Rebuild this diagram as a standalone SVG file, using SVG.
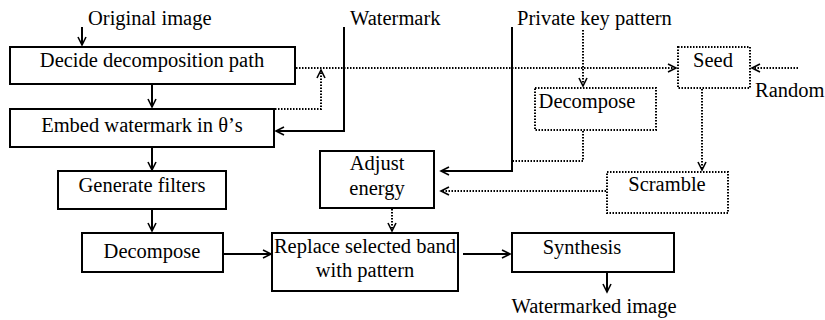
<svg xmlns="http://www.w3.org/2000/svg" width="825" height="320" viewBox="0 0 825 320">
<style>
text{font-family:"Liberation Serif","Times New Roman",serif;font-size:20.5px;fill:#000}
.m{text-anchor:middle}
.box{fill:#fff;stroke:#000;stroke-width:2}
.dbox{fill:#fff;stroke:#000;stroke-width:2;stroke-dasharray:1.5 1.5}
.c{fill:none;stroke:#000;stroke-width:2}
.d{fill:none;stroke:#000;stroke-width:2;stroke-dasharray:1.5 1.5}
</style>
<defs>
<marker id="a" markerUnits="userSpaceOnUse" markerWidth="12" markerHeight="12" refX="9" refY="5" orient="auto">
<path d="M1,1 L9,5 L1,9" fill="none" stroke="#000" stroke-width="1.6"/>
</marker>
</defs>
<g id="connectors">
<path class="c" d="M82,27 V45" marker-end="url(#a)"/>
<path class="c" d="M152,85 V107" marker-end="url(#a)"/>
<path class="c" d="M152,148 V170" marker-end="url(#a)"/>
<path class="c" d="M152,210 V231" marker-end="url(#a)"/>
<path class="c" d="M224,254 H271" marker-end="url(#a)"/>
<path class="c" d="M463,254 H510" marker-end="url(#a)"/>
<path class="c" d="M607,273 V292" marker-end="url(#a)"/>
<path class="c" d="M344,27 V131 H276" marker-end="url(#a)"/>
<path class="c" d="M512,27 V171 H441" marker-end="url(#a)"/>
<path class="d" d="M296,68 H676" marker-end="url(#a)"/>
<path class="d" d="M275,109 H321 V70" marker-end="url(#a)"/>
<path class="d" d="M583,30 V86" marker-end="url(#a)"/>
<path class="d" d="M798,68 H752" marker-end="url(#a)"/>
<path class="d" d="M702,89 V170" marker-end="url(#a)"/>
<path class="d" d="M583,131 V161 H513"/>
<path class="d" d="M606,191 H441" marker-end="url(#a)"/>
<path class="d" d="M392,209 V231" marker-end="url(#a)"/>
</g>
<g id="labels">
<text x="88" y="25">Original image</text>
<text x="350" y="25">Watermark</text>
<text x="517" y="25">Private key pattern</text>
<text x="755" y="97">Random</text>
<text x="594" y="313" class="m">Watermarked image</text>
</g>
<g id="decide"><rect class="box" x="10" y="47" width="285" height="37"/><text x="152" y="67" class="m">Decide decomposition path</text></g>
<g id="embed"><rect class="box" x="10" y="109" width="264" height="38"/><text x="142" y="132" class="m">Embed watermark in θ’s</text></g>
<g id="generate"><rect class="box" x="58" y="171" width="168" height="38"/><text x="142" y="192" class="m">Generate filters</text></g>
<g id="decompose"><rect class="box" x="82" y="233" width="141" height="39"/><text x="152" y="258" class="m">Decompose</text></g>
<g id="adjust"><rect class="box" x="320" y="151" width="114" height="57"/><text x="377" y="170" class="m">Adjust</text><text x="377" y="195" class="m">energy</text></g>
<g id="replace"><rect class="box" x="272" y="233" width="186" height="58"/><text x="365" y="253" class="m">Replace selected band</text><text x="365" y="277" class="m">with pattern</text></g>
<g id="synthesis"><rect class="box" x="512" y="233" width="162" height="39"/><text x="582" y="254" class="m">Synthesis</text></g>
<g id="seed"><rect class="dbox" x="678" y="47" width="72" height="41"/><text x="713" y="67" class="m">Seed</text></g>
<g id="decompose2"><rect class="dbox" x="535" y="88" width="121" height="42"/><text x="587" y="108" class="m">Decompose</text></g>
<g id="scramble"><rect class="dbox" x="607" y="172" width="121" height="41"/><text x="667" y="191" class="m">Scramble</text></g>
</svg>
